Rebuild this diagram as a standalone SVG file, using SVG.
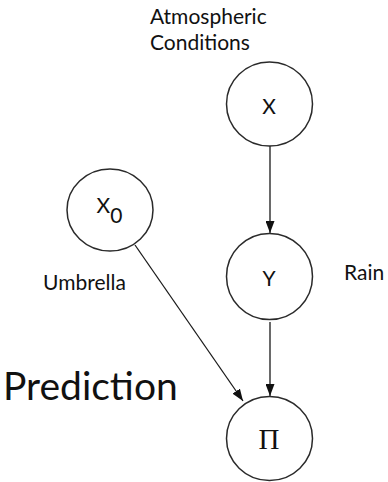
<svg xmlns="http://www.w3.org/2000/svg" width="388" height="482" viewBox="0 0 388 482">
  <style>
    .node { fill: #ffffff; stroke: #2a2a2a; stroke-width: 1.5; }
    .lbl { font-family: Lato, "Open Sans", "Liberation Sans", sans-serif; font-size: 21px; fill: #111; }
    .big { font-family: Lato, "Open Sans", "Liberation Sans", sans-serif; font-size: 39px; fill: #111; }
    .sym { font-family: "Liberation Serif", "DejaVu Serif", serif; font-size: 29px; fill: #111; }
    .edge { stroke: #1a1a1a; stroke-width: 1.3; fill: none; }
  </style>
  <defs>
    <marker id="arrow" markerUnits="userSpaceOnUse" markerWidth="12" markerHeight="9" refX="12" refY="4.5" orient="auto">
      <path d="M0,0 L12,4.5 L0,9 z" fill="#111"/>
    </marker>
  </defs>
  <rect width="388" height="482" fill="#ffffff"/>

  <g id="connectors">
    <line class="edge" x1="270" y1="146" x2="270" y2="233" marker-end="url(#arrow)"/>
    <line class="edge" x1="270" y1="322" x2="270" y2="396" marker-end="url(#arrow)"/>
    <line class="edge" x1="135" y1="245" x2="243" y2="401" marker-end="url(#arrow)"/>
  </g>

  <g id="node-x">
    <ellipse class="node" cx="269.5" cy="104" rx="43" ry="42"/>
    <text class="lbl" x="269" y="114" text-anchor="middle">X</text>
  </g>

  <g id="node-x0">
    <ellipse class="node" cx="110" cy="210" rx="43" ry="41"/>
    <text class="lbl" x="96.5" y="212.5">X<tspan dy="10.5">0</tspan></text>
  </g>

  <g id="node-y">
    <ellipse class="node" cx="269.5" cy="276.5" rx="43" ry="43"/>
    <text class="lbl" x="269" y="286" text-anchor="middle">Y</text>
  </g>

  <g id="node-pi">
    <ellipse class="node" cx="269.5" cy="438.5" rx="43" ry="42"/>
    <text class="sym" x="269" y="449" text-anchor="middle">Π</text>
  </g>

  <g id="labels">
    <text class="lbl" x="150" y="23.5">Atmospheric</text>
    <text class="lbl" x="150" y="49.5">Conditions</text>
    <text class="lbl" x="43" y="289.5">Umbrella</text>
    <text class="lbl" x="344" y="280">Rain</text>
    <text class="big" x="3" y="399.5">Prediction</text>
  </g>
</svg>
